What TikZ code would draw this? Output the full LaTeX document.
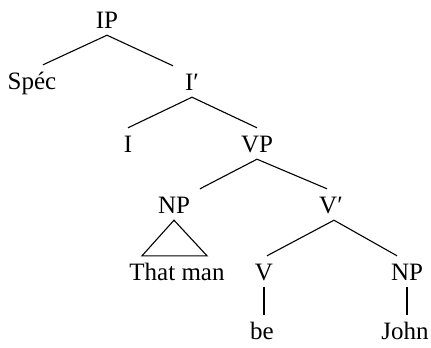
\documentclass[tikz,border=0pt]{standalone}
\usepackage{fontspec}
\setmainfont{Liberation Serif}
\usepackage{tikz}

\begin{document}
\begin{tikzpicture}[x=1pt,y=-1pt,
  cat/.style={font=\fontsize{25}{29}\selectfont,anchor=base,
    inner xsep=0pt,inner ysep=7pt,text height=17pt,text depth=0pt},
  branch/.style={black,line width=1.1pt},
  roof/.style={black,line width=1.1pt,line join=miter}
]
\useasboundingbox (0,0) rectangle (431,348);
\node[cat] (ip) at (107,28) {IP};
\node[cat] (spec) at (32,89) {Spéc};
\node[cat] (ibar) at (192,90) {I′};
\node[cat] (i) at (128,152) {I};
\node[cat] (vp) at (257,152) {VP};
\node[cat] (npa) at (174,213) {NP};
\node[cat] (vbar) at (331,213) {V′};
\node[cat] (that) at (177,280) {That man};
\node[cat] (v) at (264,280) {V};
\node[cat] (npb) at (407,280) {NP};
\node[cat] (be) at (262,339) {be};
\node[cat] (john) at (405,339) {John};
\draw[branch] (ip.south) -- ([xshift=11pt]spec.north);
\draw[branch] (ip.south) -- ([xshift=-19pt]ibar.north);
\draw[branch] (ibar.south) -- (i.north);
\draw[branch] (ibar.south) -- (vp.north);
\draw[branch] (vp.south) -- ([xshift=26pt]npa.north);
\draw[branch] (vp.south) -- ([xshift=-4pt]vbar.north);
\draw[roof] (npa.south) -- ([xshift=-35pt]that.north)
  -- ([xshift=30pt]that.north) -- cycle;
\draw[branch] ([xshift=3pt]vbar.south) -- ([xshift=3pt]v.north);
\draw[branch] ([xshift=3pt]vbar.south) -- ([xshift=-10pt]npb.north);
\draw[branch] (v.south) -- (v.south |- be.north);
\draw[branch] (npb.south) -- (npb.south |- john.north);
\end{tikzpicture}
\end{document}
